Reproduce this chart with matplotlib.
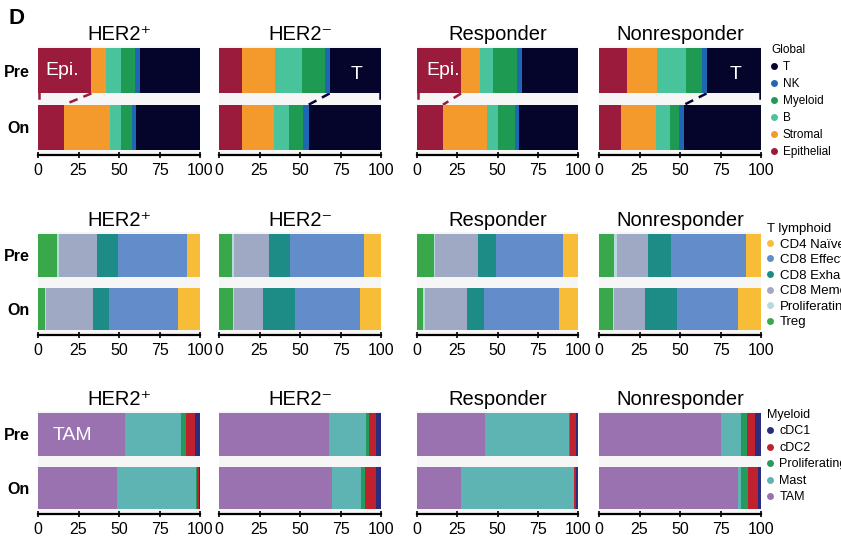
import numpy as np
import matplotlib.pyplot as plt
from matplotlib.lines import Line2D

plt.rcParams['font.family'] = ['Liberation Sans', 'DejaVu Sans']

groups = ['HER2⁺', 'HER2⁻', 'Responder', 'Nonresponder']
timepoints = ['Pre', 'On']

# Global compartments, stacked left to right (percent of cells)
global_types = ['Epithelial', 'Stromal', 'B', 'Myeloid', 'NK', 'T']
global_colors = ['#9a1b3c', '#f4992c', '#48c39b', '#1f9a52', '#2067b3', '#05052b']
global_pre = [
    [33.0, 9.0, 9.0, 8.6, 3.1, 37.3],
    [14.1, 20.7, 16.6, 13.8, 3.1, 31.7],
    [27.4, 11.8, 7.8, 14.9, 3.5, 34.6],
    [17.5, 18.6, 17.5, 9.7, 3.1, 33.6],
]
global_on = [
    [16.0, 28.7, 6.3, 7.0, 2.7, 39.3],
    [14.1, 19.6, 9.3, 8.8, 3.5, 44.7],
    [16.1, 27.6, 6.4, 10.7, 2.5, 36.7],
    [13.8, 21.1, 8.8, 5.8, 3.1, 47.4],
]

# T lymphoid subsets
tcell_types = ['Treg', 'Proliferating', 'CD8 Memory', 'CD8 Exhausted', 'CD8 Effector', 'CD4 Naïve']
tcell_colors = ['#38a84a', '#b6dad9', '#9fa9c4', '#1d8c86', '#628cca', '#f8bd38']
tcell_pre = [
    [11.5, 1.7, 23.0, 13.4, 42.2, 8.2],
    [8.3, 1.0, 21.8, 12.9, 45.8, 10.2],
    [10.4, 0.6, 26.9, 10.9, 41.8, 9.4],
    [9.3, 1.7, 19.0, 14.5, 46.2, 9.3],
]
tcell_on = [
    [4.3, 0.9, 28.8, 10.0, 42.4, 13.6],
    [8.9, 0.6, 17.4, 19.8, 40.4, 12.9],
    [3.8, 1.2, 26.3, 10.4, 46.8, 11.5],
    [8.9, 0.4, 19.3, 19.6, 37.7, 14.1],
]

# Myeloid subsets
myel_types = ['TAM', 'Mast', 'Proliferating', 'cDC2', 'cDC1']
myel_colors = ['#9b72b0', '#5db4b2', '#259a5c', '#c0212e', '#2a2d7c']
myel_pre = [
    [53.8, 34.6, 2.9, 5.8, 2.9],
    [68.0, 22.7, 2.0, 4.4, 2.9],
    [42.0, 52.6, 0.2, 4.0, 1.2],
    [75.0, 12.5, 3.7, 5.0, 3.8],
]
myel_on = [
    [48.7, 48.8, 0.8, 1.2, 0.5],
    [69.5, 18.1, 2.7, 6.6, 3.1],
    [27.5, 69.8, 0.4, 1.1, 1.2],
    [86.0, 1.5, 4.2, 6.2, 2.1],
]

W, H = 841, 543
fig = plt.figure(figsize=(W / 100, H / 100), dpi=100)


def px_axes(x0, top, x1, bot):
    return fig.add_axes([x0 / W, 1 - bot / H, (x1 - x0) / W, (bot - top) / H])


panel_x = [(38, 200), (219, 381), (417, 578), (599, 761)]
row_y = [(46, 155), (232, 335), (411, 514)]
bar_h = 0.8


def draw_row(row, pre, on, colors, link=None):
    axes = []
    for i, (x0, x1) in enumerate(panel_x):
        ax = px_axes(x0, row_y[row][0], x1, row_y[row][1])
        ax.set_facecolor('#f6f6f6')
        for yi, vals in enumerate([pre[i], on[i]]):
            left = np.concatenate([[0], np.cumsum(vals)[:-1]])
            ax.barh(yi, vals, left=left, height=bar_h, color=colors,
                    edgecolor='none', zorder=2)
        ax.set_xlim(0, 100)
        ax.set_ylim(1.49, -0.44)
        ax.set_xticks([0, 25, 50, 75, 100])
        ax.tick_params(axis='x', labelsize=11.5, direction='inout', length=5,
                       width=1.2, pad=3)
        for s in ['top', 'right', 'left']:
            ax.spines[s].set_visible(False)
        ax.spines['bottom'].set_linewidth(1.6)
        if i == 0:
            ax.set_yticks([0, 1])
            ax.set_yticklabels(timepoints, fontsize=11.5, fontweight='bold')
            ax.tick_params(axis='y', length=0, pad=6)
        else:
            ax.set_yticks([])
        ax.set_title(groups[i], fontsize=14.5, pad=4)

        # dashed link between the Pre and On boundary of one compartment
        if link is not None and i in link:
            k, side = link[i]
            cp = np.cumsum(pre[i])[k]
            co = np.cumsum(on[i])[k]
            col = colors[k] if side == 'left' else colors[k + 1]
            y0, y1 = bar_h / 2, 1 - bar_h / 2
            ax.plot([cp, co], [y0, y1], color=col, lw=1.8, ls=(0, (3.5, 2.5)),
                    zorder=1)
            edge = 0.4 if side == 'left' else 99.6
            ax.plot([edge, edge], [y0, y0 + 0.08], color=col, lw=1.8, zorder=1)
        axes.append(ax)
    return axes


ax_g = draw_row(0, global_pre, global_on, global_colors,
                link={0: (0, 'left'), 2: (0, 'left'), 1: (4, 'right'), 3: (4, 'right')})
ax_t = draw_row(1, tcell_pre, tcell_on, tcell_colors)
ax_m = draw_row(2, myel_pre, myel_on, myel_colors)

# compartment labels inside bars
ax_g[0].text(15, 0, 'Epi.', color='white', fontsize=14, ha='center', va='center', zorder=3)
ax_g[2].text(16, 0, 'Epi.', color='white', fontsize=14, ha='center', va='center', zorder=3)
ax_g[1].text(85, 0.07, 'T', color='white', fontsize=14, ha='center', va='center', zorder=3)
ax_g[3].text(84, 0.07, 'T', color='white', fontsize=14, ha='center', va='center', zorder=3)
ax_m[0].text(21, 0.02, 'TAM', color='white', fontsize=14, ha='center', va='center', zorder=3)

fig.text(8 / W, 1 - 18 / H, 'D', fontsize=16, fontweight='bold', va='center')


def add_legend(title, labels, colors, x, top, size, spacing):
    handles = [Line2D([], [], ls='none', marker='o', markersize=5,
                      markerfacecolor=c, markeredgecolor='none') for c in colors]
    leg = fig.legend(handles, labels, title=title, loc='upper left',
                     bbox_to_anchor=(x / W, 1 - top / H), frameon=False,
                     fontsize=size, title_fontsize=size, borderpad=0,
                     borderaxespad=0, handlelength=0.5, handletextpad=0.5,
                     labelspacing=spacing, alignment='left')
    return leg


add_legend('Global', global_types[::-1], global_colors[::-1], 771, 44, 8.5, 0.42)
add_legend('T lymphoid', tcell_types[::-1], tcell_colors[::-1], 767, 223, 9.5, 0.25)
add_legend('Myeloid', ['cDC1', 'cDC2', 'Proliferating', 'Mast', 'TAM'],
           myel_colors[::-1], 767, 409, 9, 0.36)

fig.savefig('out.png', dpi=100)
